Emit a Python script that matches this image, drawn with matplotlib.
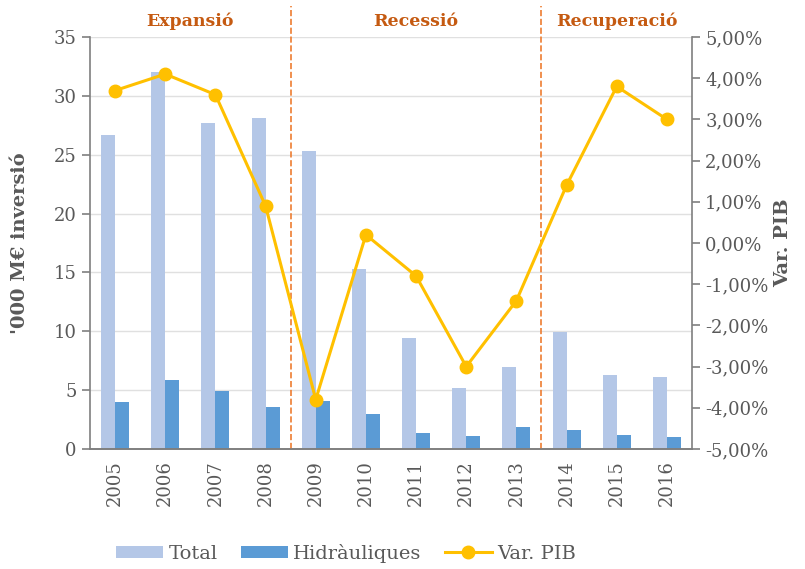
import matplotlib.pyplot as plt
import numpy as np
from matplotlib.ticker import FuncFormatter

plt.rcParams['font.family'] = 'DejaVu Serif'

years = ['2005', '2006', '2007', '2008', '2009', '2010', '2011', '2012', '2013', '2014', '2015', '2016']
total = [26.7, 32.0, 27.7, 28.1, 25.3, 15.3, 9.4, 5.2, 7.0, 9.9, 6.3, 6.1]
hidrauliques = [4.0, 5.9, 4.9, 3.6, 4.1, 3.0, 1.4, 1.1, 1.9, 1.6, 1.2, 1.0]
var_pib = [3.7, 4.1, 3.6, 0.9, -3.8, 0.2, -0.8, -3.0, -1.4, 1.4, 3.8, 3.0]
phases = ['Expansió', 'Recessió', 'Recuperació']
phase_bounds = [(-0.5, 3.5), (3.5, 8.5), (8.5, 11.5)]

grey = '#595959'
x = np.arange(len(years))
w = 0.28

fig = plt.figure(figsize=(8.05, 5.69), dpi=100)
ax = fig.add_axes([0.1118, 0.2109, 0.7478, 0.7241])
ax2 = ax.twinx()

b1 = ax.bar(x - w / 2, total, w, color='#B4C7E7', label='Total', zorder=2)
b2 = ax.bar(x + w / 2, hidrauliques, w, color='#5B9BD5', label='Hidràuliques', zorder=2)
ln, = ax2.plot(x, var_pib, color='#FFC000', lw=2.2, marker='o', ms=9, label='Var. PIB')

ax.set_xlim(-0.5, 11.5)
ax.set_ylim(0, 35)
ax.set_yticks(range(0, 36, 5))
ax.yaxis.grid(True, color='#E0E0E0', lw=1.0, zorder=0)
ax.set_axisbelow(True)
ax.set_xticks(x)
ax.set_xticklabels(years, rotation=90, fontsize=13, color=grey)
ax.tick_params(axis='x', length=0, pad=8)
ax.tick_params(axis='y', labelsize=13, colors=grey, length=6, width=1.2, color='#7F7F7F')

ax2.set_ylim(-5, 5)
ax2.set_yticks(range(-5, 6))
ax2.yaxis.set_major_formatter(FuncFormatter(lambda v, p: f'{v:.2f}'.replace('.', ',') + '%'))
ax2.tick_params(axis='y', labelsize=13, colors=grey, length=6, width=1.2, color='#7F7F7F')

for a in (ax, ax2):
    a.spines['top'].set_visible(False)
    for s in ('left', 'right', 'bottom'):
        a.spines[s].set_color('#7F7F7F')
        a.spines[s].set_linewidth(1.2)
ax.spines['right'].set_visible(False)
ax2.spines['left'].set_visible(False)

for (lo, hi), name in zip(phase_bounds, phases):
    if lo > -0.5:
        ax.plot([lo, lo], [0, 37.6], color='#ED7D31', ls='--', lw=1.2, zorder=3, clip_on=False)
    ax.text((lo + hi) / 2, 35.6, name, ha='center', va='bottom', fontsize=12.5,
            fontweight='bold', color='#C55A11')

ax.set_ylabel("'000 M€ inversió", fontsize=14, fontweight='bold', color=grey, labelpad=18)
ax2.set_ylabel('Var. PIB', fontsize=14, fontweight='bold', color=grey, labelpad=4)

fig.legend([b1, b2, ln], ['Total', 'Hidràuliques', 'Var. PIB'], loc='lower center',
           bbox_to_anchor=(0.43, -0.02), ncol=3, frameon=False, fontsize=14,
           labelcolor=grey, handlelength=2.4, handleheight=0.6, handletextpad=0.3,
           columnspacing=1.2)

fig.savefig('out.png', dpi=100)
